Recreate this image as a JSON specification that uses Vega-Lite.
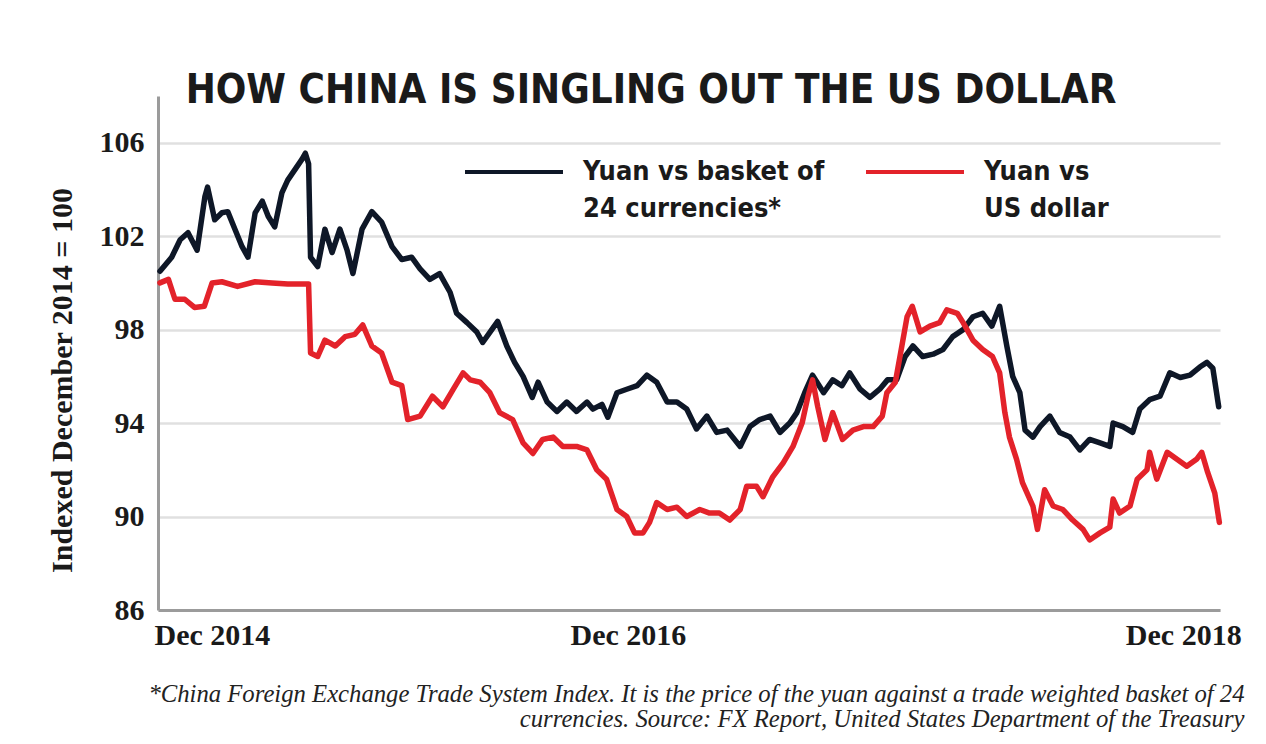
{
  "$schema": "https://vega.github.io/schema/vega-lite/v6.json",
  "width": 1062,
  "height": 514,
  "autosize": "none",
  "padding": {"left": 158, "top": 96, "right": 46, "bottom": 134},
  "background": "white",
  "title": {
    "text": "HOW CHINA IS SINGLING OUT THE US DOLLAR",
    "anchor": "middle",
    "frame": "group",
    "font": "DejaVu Sans Condensed, Liberation Sans Narrow, Roboto",
    "fontSize": 40,
    "fontWeight": "bold",
    "color": "#1a1a1a",
    "dx": -38,
    "offset": -15
  },
  "config": {
    "view": {"stroke": null},
    "axis": {
      "ticks": false,
      "labelFont": "Liberation Serif",
      "labelFontWeight": "bold",
      "labelFontSize": 30,
      "labelColor": "#1a1a1a",
      "domainColor": "#9b9b9b",
      "domainWidth": 3
    }
  },
  "data": {
    "values": [
      {"date": "2014-12-18", "series": "basket", "value": 100.5},
      {"date": "2015-01-05", "series": "basket", "value": 101.1},
      {"date": "2015-01-18", "series": "basket", "value": 101.85},
      {"date": "2015-01-30", "series": "basket", "value": 102.15},
      {"date": "2015-02-13", "series": "basket", "value": 101.4},
      {"date": "2015-02-25", "series": "basket", "value": 103.7},
      {"date": "2015-03-01", "series": "basket", "value": 104.1},
      {"date": "2015-03-12", "series": "basket", "value": 102.7},
      {"date": "2015-03-23", "series": "basket", "value": 103.0},
      {"date": "2015-04-01", "series": "basket", "value": 103.05},
      {"date": "2015-04-12", "series": "basket", "value": 102.3},
      {"date": "2015-04-23", "series": "basket", "value": 101.55},
      {"date": "2015-05-02", "series": "basket", "value": 101.1},
      {"date": "2015-05-13", "series": "basket", "value": 103.0},
      {"date": "2015-05-24", "series": "basket", "value": 103.5},
      {"date": "2015-06-02", "series": "basket", "value": 102.85},
      {"date": "2015-06-12", "series": "basket", "value": 102.4},
      {"date": "2015-06-23", "series": "basket", "value": 103.85},
      {"date": "2015-07-02", "series": "basket", "value": 104.4},
      {"date": "2015-07-13", "series": "basket", "value": 104.85},
      {"date": "2015-07-24", "series": "basket", "value": 105.3},
      {"date": "2015-07-29", "series": "basket", "value": 105.55},
      {"date": "2015-08-03", "series": "basket", "value": 105.1},
      {"date": "2015-08-06", "series": "basket", "value": 101.1},
      {"date": "2015-08-17", "series": "basket", "value": 100.7},
      {"date": "2015-08-28", "series": "basket", "value": 102.3},
      {"date": "2015-09-08", "series": "basket", "value": 101.3},
      {"date": "2015-09-20", "series": "basket", "value": 102.3},
      {"date": "2015-10-01", "series": "basket", "value": 101.4},
      {"date": "2015-10-10", "series": "basket", "value": 100.4},
      {"date": "2015-10-24", "series": "basket", "value": 102.3},
      {"date": "2015-11-08", "series": "basket", "value": 103.05},
      {"date": "2015-11-23", "series": "basket", "value": 102.6},
      {"date": "2015-12-09", "series": "basket", "value": 101.55},
      {"date": "2015-12-24", "series": "basket", "value": 101.0},
      {"date": "2016-01-08", "series": "basket", "value": 101.1},
      {"date": "2016-01-21", "series": "basket", "value": 100.6},
      {"date": "2016-02-05", "series": "basket", "value": 100.15},
      {"date": "2016-02-20", "series": "basket", "value": 100.4},
      {"date": "2016-03-07", "series": "basket", "value": 99.6},
      {"date": "2016-03-17", "series": "basket", "value": 98.7},
      {"date": "2016-04-02", "series": "basket", "value": 98.3},
      {"date": "2016-04-17", "series": "basket", "value": 97.9},
      {"date": "2016-04-26", "series": "basket", "value": 97.45},
      {"date": "2016-05-10", "series": "basket", "value": 98.0},
      {"date": "2016-05-19", "series": "basket", "value": 98.35},
      {"date": "2016-06-02", "series": "basket", "value": 97.3},
      {"date": "2016-06-14", "series": "basket", "value": 96.6},
      {"date": "2016-06-27", "series": "basket", "value": 96.0},
      {"date": "2016-07-11", "series": "basket", "value": 95.1},
      {"date": "2016-07-20", "series": "basket", "value": 95.75},
      {"date": "2016-08-03", "series": "basket", "value": 94.9},
      {"date": "2016-08-18", "series": "basket", "value": 94.5},
      {"date": "2016-09-02", "series": "basket", "value": 94.9},
      {"date": "2016-09-17", "series": "basket", "value": 94.5},
      {"date": "2016-10-03", "series": "basket", "value": 94.9},
      {"date": "2016-10-12", "series": "basket", "value": 94.6},
      {"date": "2016-10-26", "series": "basket", "value": 94.8},
      {"date": "2016-11-04", "series": "basket", "value": 94.25},
      {"date": "2016-11-18", "series": "basket", "value": 95.3},
      {"date": "2016-12-03", "series": "basket", "value": 95.45},
      {"date": "2016-12-19", "series": "basket", "value": 95.6},
      {"date": "2017-01-03", "series": "basket", "value": 96.05},
      {"date": "2017-01-18", "series": "basket", "value": 95.75},
      {"date": "2017-02-03", "series": "basket", "value": 94.9},
      {"date": "2017-02-18", "series": "basket", "value": 94.9},
      {"date": "2017-03-05", "series": "basket", "value": 94.6},
      {"date": "2017-03-20", "series": "basket", "value": 93.75},
      {"date": "2017-04-05", "series": "basket", "value": 94.3},
      {"date": "2017-04-20", "series": "basket", "value": 93.6},
      {"date": "2017-05-06", "series": "basket", "value": 93.7},
      {"date": "2017-05-26", "series": "basket", "value": 93.0},
      {"date": "2017-06-10", "series": "basket", "value": 93.85},
      {"date": "2017-06-25", "series": "basket", "value": 94.15},
      {"date": "2017-07-11", "series": "basket", "value": 94.3},
      {"date": "2017-07-26", "series": "basket", "value": 93.6},
      {"date": "2017-08-10", "series": "basket", "value": 94.0},
      {"date": "2017-08-21", "series": "basket", "value": 94.45},
      {"date": "2017-09-02", "series": "basket", "value": 95.3},
      {"date": "2017-09-14", "series": "basket", "value": 96.05},
      {"date": "2017-10-01", "series": "basket", "value": 95.3},
      {"date": "2017-10-15", "series": "basket", "value": 95.85},
      {"date": "2017-10-29", "series": "basket", "value": 95.6},
      {"date": "2017-11-10", "series": "basket", "value": 96.15},
      {"date": "2017-11-26", "series": "basket", "value": 95.45},
      {"date": "2017-12-11", "series": "basket", "value": 95.1},
      {"date": "2017-12-26", "series": "basket", "value": 95.45},
      {"date": "2018-01-07", "series": "basket", "value": 95.85},
      {"date": "2018-01-21", "series": "basket", "value": 95.85},
      {"date": "2018-02-03", "series": "basket", "value": 96.85},
      {"date": "2018-02-15", "series": "basket", "value": 97.3},
      {"date": "2018-03-02", "series": "basket", "value": 96.85},
      {"date": "2018-03-18", "series": "basket", "value": 96.95},
      {"date": "2018-04-02", "series": "basket", "value": 97.15},
      {"date": "2018-04-17", "series": "basket", "value": 97.7},
      {"date": "2018-05-03", "series": "basket", "value": 98.0},
      {"date": "2018-05-18", "series": "basket", "value": 98.55},
      {"date": "2018-06-02", "series": "basket", "value": 98.7},
      {"date": "2018-06-16", "series": "basket", "value": 98.15},
      {"date": "2018-06-28", "series": "basket", "value": 99.0},
      {"date": "2018-07-09", "series": "basket", "value": 97.3},
      {"date": "2018-07-18", "series": "basket", "value": 96.0},
      {"date": "2018-07-29", "series": "basket", "value": 95.3},
      {"date": "2018-08-06", "series": "basket", "value": 93.7},
      {"date": "2018-08-18", "series": "basket", "value": 93.4},
      {"date": "2018-08-29", "series": "basket", "value": 93.85},
      {"date": "2018-09-13", "series": "basket", "value": 94.3},
      {"date": "2018-09-28", "series": "basket", "value": 93.6},
      {"date": "2018-10-14", "series": "basket", "value": 93.4},
      {"date": "2018-10-29", "series": "basket", "value": 92.85},
      {"date": "2018-11-13", "series": "basket", "value": 93.3},
      {"date": "2018-11-29", "series": "basket", "value": 93.15},
      {"date": "2018-12-14", "series": "basket", "value": 93.0},
      {"date": "2018-12-19", "series": "basket", "value": 94.0},
      {"date": "2019-01-03", "series": "basket", "value": 93.85},
      {"date": "2019-01-18", "series": "basket", "value": 93.6},
      {"date": "2019-01-29", "series": "basket", "value": 94.6},
      {"date": "2019-02-13", "series": "basket", "value": 95.0},
      {"date": "2019-03-01", "series": "basket", "value": 95.15},
      {"date": "2019-03-16", "series": "basket", "value": 96.15},
      {"date": "2019-04-01", "series": "basket", "value": 95.95},
      {"date": "2019-04-16", "series": "basket", "value": 96.05},
      {"date": "2019-05-01", "series": "basket", "value": 96.4},
      {"date": "2019-05-12", "series": "basket", "value": 96.6},
      {"date": "2019-05-21", "series": "basket", "value": 96.35},
      {"date": "2019-05-30", "series": "basket", "value": 94.7},
      {"date": "2014-12-18", "series": "usd", "value": 100.0},
      {"date": "2014-12-31", "series": "usd", "value": 100.15},
      {"date": "2015-01-10", "series": "usd", "value": 99.3},
      {"date": "2015-01-25", "series": "usd", "value": 99.3},
      {"date": "2015-02-09", "series": "usd", "value": 98.95},
      {"date": "2015-02-24", "series": "usd", "value": 99.0},
      {"date": "2015-03-08", "series": "usd", "value": 100.0},
      {"date": "2015-03-23", "series": "usd", "value": 100.05},
      {"date": "2015-04-16", "series": "usd", "value": 99.85},
      {"date": "2015-05-13", "series": "usd", "value": 100.05},
      {"date": "2015-06-08", "series": "usd", "value": 100.0},
      {"date": "2015-07-02", "series": "usd", "value": 99.95},
      {"date": "2015-08-03", "series": "usd", "value": 99.95},
      {"date": "2015-08-06", "series": "usd", "value": 97.0},
      {"date": "2015-08-17", "series": "usd", "value": 96.85},
      {"date": "2015-08-28", "series": "usd", "value": 97.55},
      {"date": "2015-09-13", "series": "usd", "value": 97.3},
      {"date": "2015-09-28", "series": "usd", "value": 97.7},
      {"date": "2015-10-13", "series": "usd", "value": 97.8},
      {"date": "2015-10-25", "series": "usd", "value": 98.2},
      {"date": "2015-11-08", "series": "usd", "value": 97.3},
      {"date": "2015-11-23", "series": "usd", "value": 97.0},
      {"date": "2015-12-09", "series": "usd", "value": 95.75},
      {"date": "2015-12-24", "series": "usd", "value": 95.6},
      {"date": "2016-01-02", "series": "usd", "value": 94.15},
      {"date": "2016-01-21", "series": "usd", "value": 94.3},
      {"date": "2016-02-09", "series": "usd", "value": 95.15},
      {"date": "2016-02-25", "series": "usd", "value": 94.7},
      {"date": "2016-03-12", "series": "usd", "value": 95.45},
      {"date": "2016-03-27", "series": "usd", "value": 96.15},
      {"date": "2016-04-07", "series": "usd", "value": 95.85},
      {"date": "2016-04-22", "series": "usd", "value": 95.75},
      {"date": "2016-05-07", "series": "usd", "value": 95.3},
      {"date": "2016-05-22", "series": "usd", "value": 94.45},
      {"date": "2016-06-11", "series": "usd", "value": 94.15},
      {"date": "2016-06-27", "series": "usd", "value": 93.15},
      {"date": "2016-07-12", "series": "usd", "value": 92.7},
      {"date": "2016-07-27", "series": "usd", "value": 93.3},
      {"date": "2016-08-12", "series": "usd", "value": 93.4},
      {"date": "2016-08-27", "series": "usd", "value": 93.0},
      {"date": "2016-09-17", "series": "usd", "value": 93.0},
      {"date": "2016-10-03", "series": "usd", "value": 92.85},
      {"date": "2016-10-18", "series": "usd", "value": 92.0},
      {"date": "2016-11-02", "series": "usd", "value": 91.6},
      {"date": "2016-11-18", "series": "usd", "value": 90.3},
      {"date": "2016-12-03", "series": "usd", "value": 90.0},
      {"date": "2016-12-15", "series": "usd", "value": 89.3},
      {"date": "2016-12-28", "series": "usd", "value": 89.3},
      {"date": "2017-01-07", "series": "usd", "value": 89.75},
      {"date": "2017-01-18", "series": "usd", "value": 90.6},
      {"date": "2017-02-03", "series": "usd", "value": 90.3},
      {"date": "2017-02-18", "series": "usd", "value": 90.4},
      {"date": "2017-03-05", "series": "usd", "value": 90.0},
      {"date": "2017-03-25", "series": "usd", "value": 90.3},
      {"date": "2017-04-09", "series": "usd", "value": 90.15},
      {"date": "2017-04-24", "series": "usd", "value": 90.15},
      {"date": "2017-05-10", "series": "usd", "value": 89.85},
      {"date": "2017-05-26", "series": "usd", "value": 90.3},
      {"date": "2017-06-05", "series": "usd", "value": 91.3},
      {"date": "2017-06-20", "series": "usd", "value": 91.3},
      {"date": "2017-06-30", "series": "usd", "value": 90.85},
      {"date": "2017-07-15", "series": "usd", "value": 91.7},
      {"date": "2017-07-31", "series": "usd", "value": 92.3},
      {"date": "2017-08-15", "series": "usd", "value": 93.0},
      {"date": "2017-08-29", "series": "usd", "value": 94.0},
      {"date": "2017-09-07", "series": "usd", "value": 95.15},
      {"date": "2017-09-14", "series": "usd", "value": 95.85},
      {"date": "2017-09-22", "series": "usd", "value": 94.7},
      {"date": "2017-10-03", "series": "usd", "value": 93.3},
      {"date": "2017-10-15", "series": "usd", "value": 94.45},
      {"date": "2017-10-30", "series": "usd", "value": 93.3},
      {"date": "2017-11-15", "series": "usd", "value": 93.7},
      {"date": "2017-12-01", "series": "usd", "value": 93.85},
      {"date": "2017-12-16", "series": "usd", "value": 93.85},
      {"date": "2017-12-30", "series": "usd", "value": 94.3},
      {"date": "2018-01-06", "series": "usd", "value": 95.3},
      {"date": "2018-01-19", "series": "usd", "value": 95.75},
      {"date": "2018-01-29", "series": "usd", "value": 97.3},
      {"date": "2018-02-06", "series": "usd", "value": 98.55},
      {"date": "2018-02-14", "series": "usd", "value": 99.0},
      {"date": "2018-02-26", "series": "usd", "value": 97.9},
      {"date": "2018-03-13", "series": "usd", "value": 98.15},
      {"date": "2018-03-28", "series": "usd", "value": 98.3},
      {"date": "2018-04-08", "series": "usd", "value": 98.85},
      {"date": "2018-04-24", "series": "usd", "value": 98.7},
      {"date": "2018-05-03", "series": "usd", "value": 98.3},
      {"date": "2018-05-18", "series": "usd", "value": 97.55},
      {"date": "2018-06-02", "series": "usd", "value": 97.15},
      {"date": "2018-06-17", "series": "usd", "value": 96.85},
      {"date": "2018-06-28", "series": "usd", "value": 96.15},
      {"date": "2018-07-06", "series": "usd", "value": 94.45},
      {"date": "2018-07-13", "series": "usd", "value": 93.4},
      {"date": "2018-07-24", "series": "usd", "value": 92.45},
      {"date": "2018-08-02", "series": "usd", "value": 91.45},
      {"date": "2018-08-18", "series": "usd", "value": 90.45},
      {"date": "2018-08-25", "series": "usd", "value": 89.45},
      {"date": "2018-09-05", "series": "usd", "value": 91.15},
      {"date": "2018-09-18", "series": "usd", "value": 90.45},
      {"date": "2018-10-03", "series": "usd", "value": 90.3},
      {"date": "2018-10-18", "series": "usd", "value": 89.85},
      {"date": "2018-11-03", "series": "usd", "value": 89.45},
      {"date": "2018-11-13", "series": "usd", "value": 89.0},
      {"date": "2018-11-29", "series": "usd", "value": 89.3},
      {"date": "2018-12-14", "series": "usd", "value": 89.55},
      {"date": "2018-12-19", "series": "usd", "value": 90.75},
      {"date": "2018-12-29", "series": "usd", "value": 90.15},
      {"date": "2019-01-14", "series": "usd", "value": 90.45},
      {"date": "2019-01-25", "series": "usd", "value": 91.6},
      {"date": "2019-02-09", "series": "usd", "value": 92.0},
      {"date": "2019-02-13", "series": "usd", "value": 92.75},
      {"date": "2019-02-24", "series": "usd", "value": 91.6},
      {"date": "2019-03-12", "series": "usd", "value": 92.75},
      {"date": "2019-03-27", "series": "usd", "value": 92.45},
      {"date": "2019-04-11", "series": "usd", "value": 92.15},
      {"date": "2019-04-26", "series": "usd", "value": 92.45},
      {"date": "2019-05-04", "series": "usd", "value": 92.75},
      {"date": "2019-05-13", "series": "usd", "value": 91.9},
      {"date": "2019-05-24", "series": "usd", "value": 91.0},
      {"date": "2019-05-31", "series": "usd", "value": 89.75}
    ]
  },
  "mark": {"type": "line", "strokeWidth": 5.5, "strokeJoin": "round", "strokeCap": "round"},
  "encoding": {
    "x": {
      "field": "date",
      "type": "temporal",
      "scale": {"domain": [{"year": 2014, "month": 12, "date": 15}, {"year": 2019, "month": 6, "date": 1}]},
      "axis": {
        "values": [{"year": 2014, "month": 12, "date": 15}, {"year": 2016, "month": 12, "date": 11}, {"year": 2018, "month": 12, "date": 1}],
        "labelExpr": "'Dec ' + year(datum.value)",
        "labelAlign": {"condition": {"test": "year(datum.value) == 2016", "value": "center"}, "value": "left"},
        "labelOffset": {"condition": {"test": "year(datum.value) == 2018", "value": 24}, "value": -4},
        "labelPadding": 10,
        "labelFlush": false,
        "grid": false,
        "title": ["*China Foreign Exchange Trade System Index. It is the price of the yuan against a trade weighted basket of  24", "currencies.  Source: FX Report, United States  Department of the Treasury"],
        "titleFont": "Liberation Serif",
        "titleFontStyle": "italic",
        "titleFontWeight": "normal",
        "titleFontSize": 24.7,
        "titleColor": "#222222",
        "titleAnchor": null,
        "titleAlign": "right",
        "titleBaseline": "alphabetic",
        "titleX": 1086,
        "titleY": 91,
        "titleLineHeight": 25
      }
    },
    "y": {
      "field": "value",
      "type": "quantitative",
      "scale": {"domain": [86, 108], "nice": false, "zero": false},
      "axis": {
        "values": [86, 90, 94, 98, 102, 106],
        "grid": true,
        "gridColor": "#e0e0e0",
        "gridWidth": 2.5,
        "labelPadding": 14,
        "title": "Indexed December 2014 = 100",
        "titleFont": "Liberation Serif",
        "titleFontWeight": "bold",
        "titleFontSize": 30,
        "titleColor": "#1a1a1a",
        "titleY": 284,
        "titlePadding": 22
      }
    },
    "color": {
      "field": "series",
      "type": "nominal",
      "scale": {"domain": ["basket", "usd"], "range": ["#0e1727", "#e3222a"]},
      "legend": {
        "title": null,
        "orient": "none",
        "direction": "horizontal",
        "legendX": 305,
        "legendY": 25,
        "symbolType": "stroke",
        "symbolSize": 9600,
        "symbolStrokeWidth": 4,
        "labelExpr": "datum.value == 'basket' ? ['Yuan vs basket of', '24 currencies*'] : ['Yuan vs', 'US dollar']",
        "labelFont": "DejaVu Sans Condensed, Liberation Sans Narrow, Roboto",
        "labelFontSize": 27,
        "labelFontWeight": "bold",
        "labelColor": "#1a1a1a",
        "labelBaseline": "middle",
        "labelOffset": 18,
        "labelLimit": 400,
        "columnPadding": 33,
        "encode": {"labels": {"update": {"lineHeight": {"value": 37}}}}
      }
    }
  }
}
